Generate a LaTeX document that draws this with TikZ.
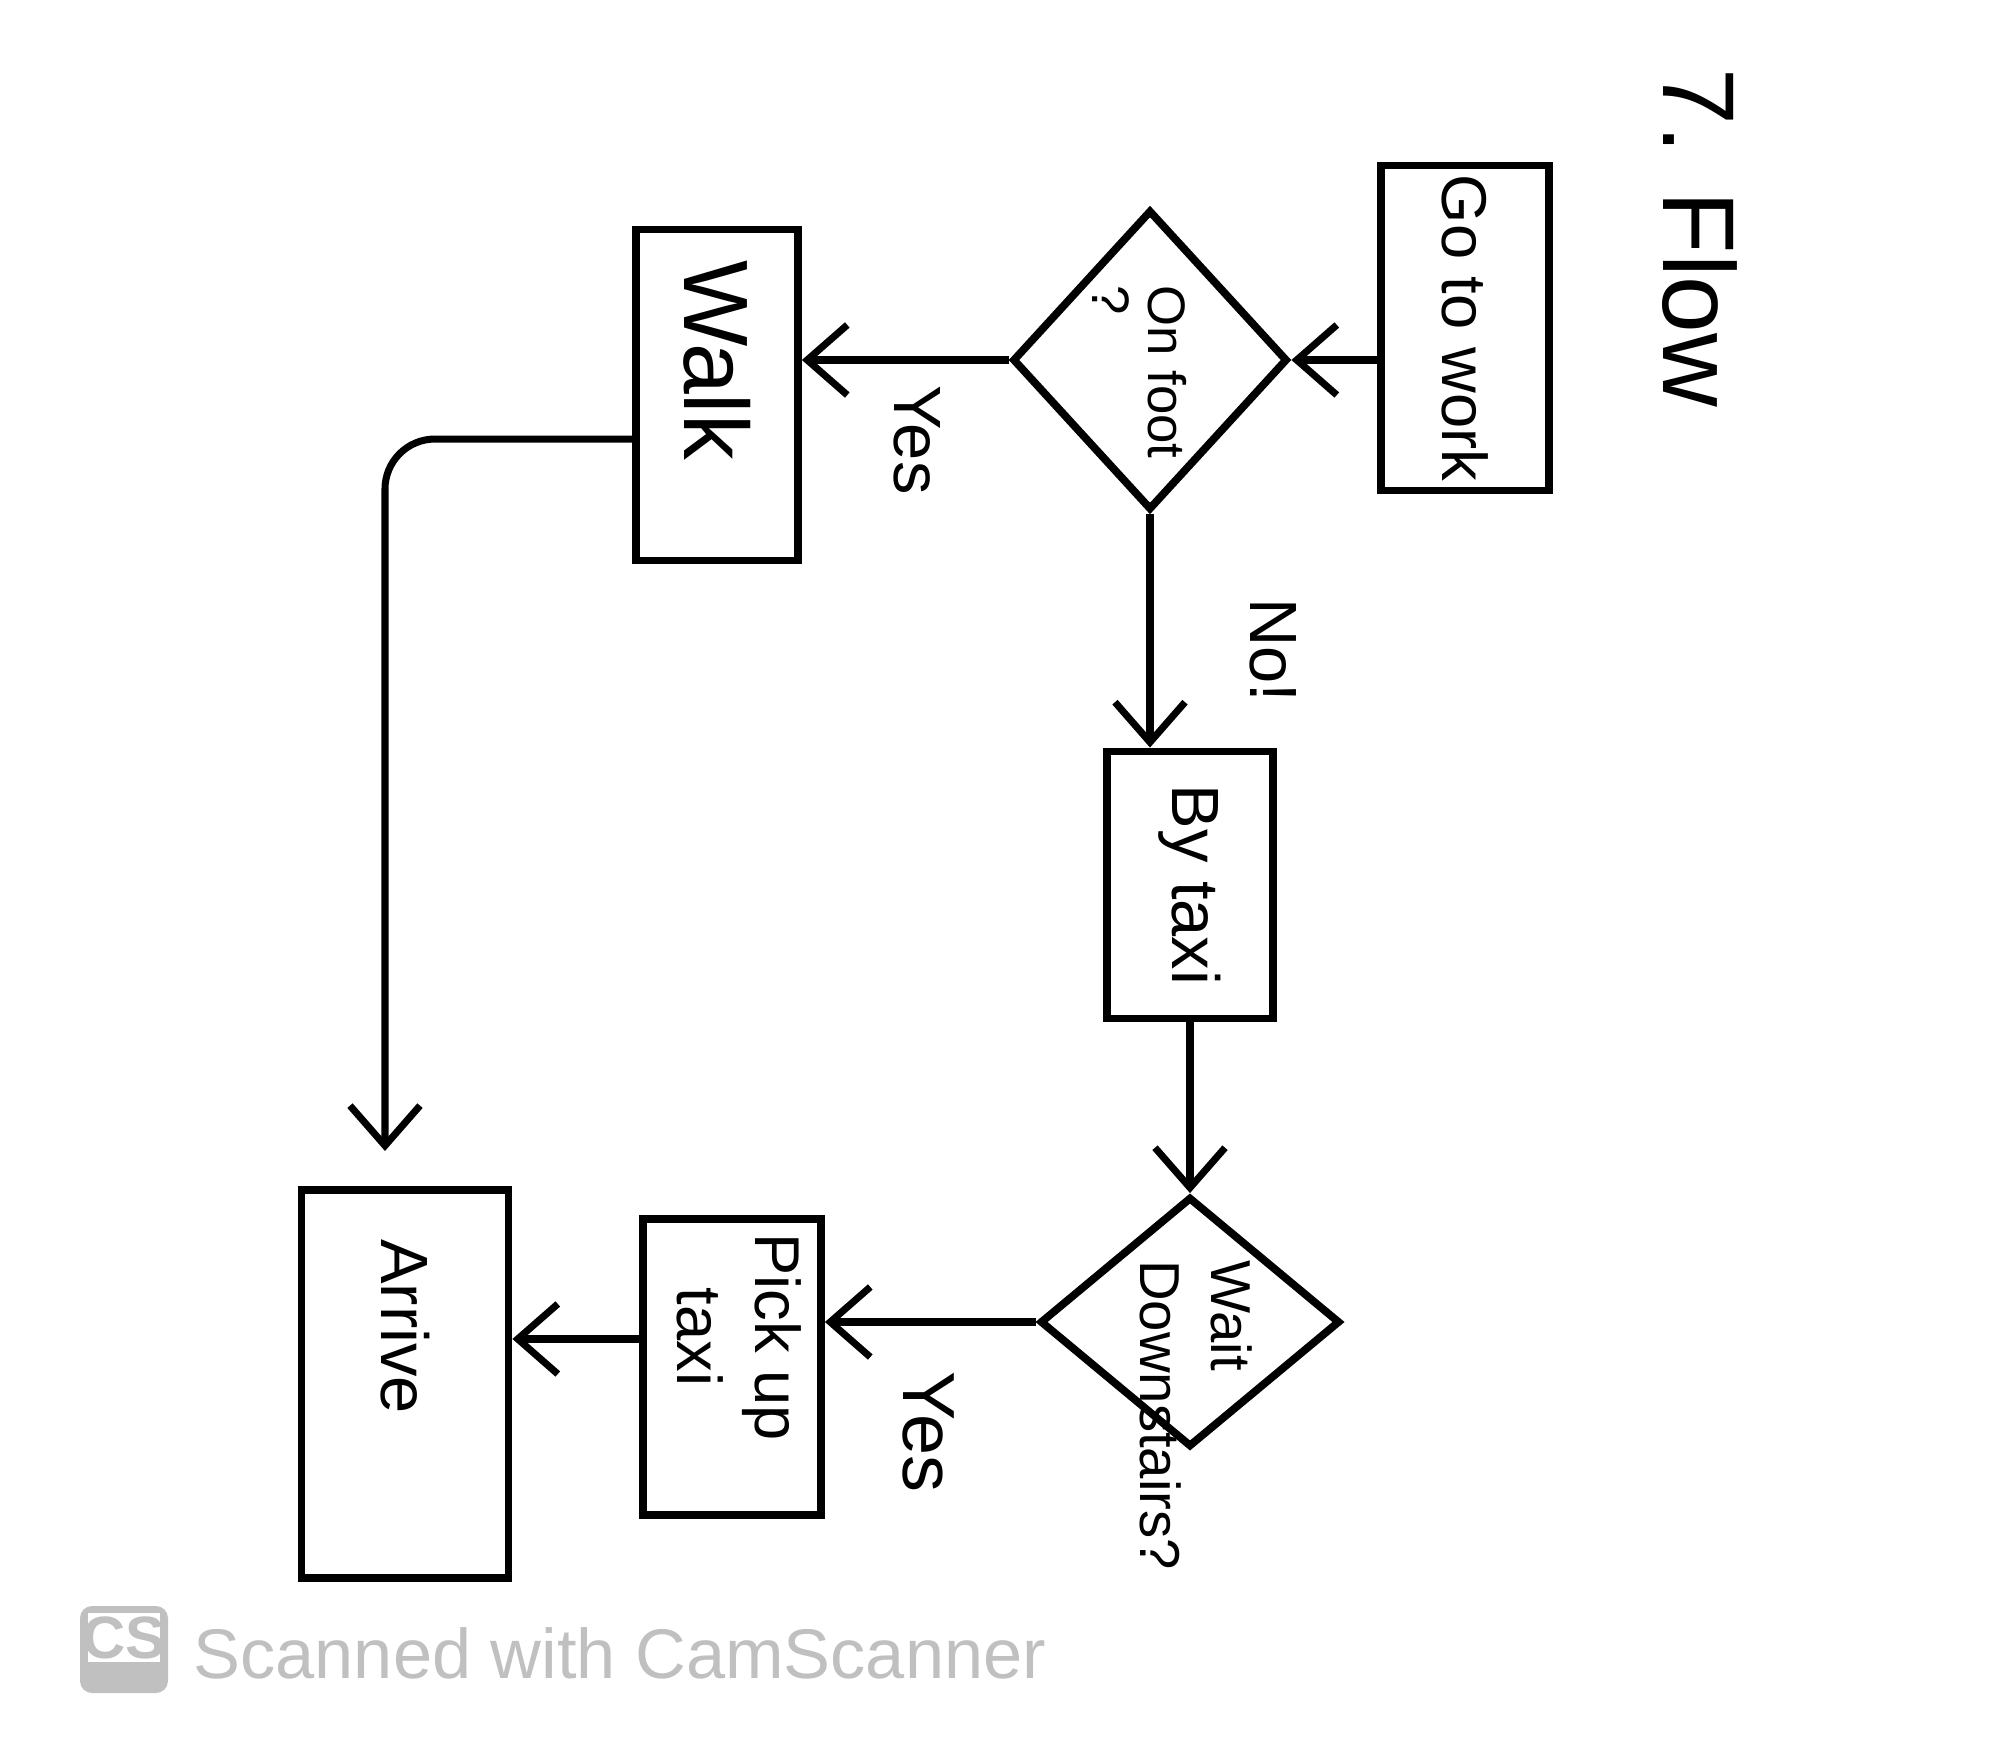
\documentclass[tikz,border=0pt]{standalone}
\usepackage{fontspec}
\setmainfont{Liberation Sans}
\usetikzlibrary{shapes.geometric,arrows.meta}
\definecolor{wmgray}{RGB}{192,192,192}
\newcommand{\vt}[1]{\rotatebox{-90}{#1}}
\begin{document}
\begin{tikzpicture}[x=0.01cm,y=-0.01cm,
  stepbox/.style={draw,line width=2.2pt,inner sep=0pt},
  choice/.style={draw,shape=diamond,line width=2.2pt,inner sep=0pt},
  hand/.style={font=\fontsize{19}{22}\selectfont},
  flow/.style={line width=2pt,-{Straight Barb[length=4mm,width=7mm,line width=2pt]}}]
\useasboundingbox (0,0) rectangle (1996,1764);

\node[rotate=-90,font=\fontsize{29}{32}\selectfont] (title) at (1700,238) {7. Flow};

\node[stepbox,font=\fontsize{18}{22}\selectfont,minimum width=1.68cm,minimum height=3.25cm] (gowork) at (1465,328) {\vt{Go to work}};
\node[choice,minimum width=2.75cm,minimum height=3.0cm] (onfoot) at (1150,360) {};
\node[rotate=-90,font=\fontsize{15}{16}\selectfont] (onfoottxt) at (1132,372) {\begin{tabular}{@{}l@{}}On foot\\?\end{tabular}};
\node[stepbox,minimum width=1.62cm,minimum height=3.31cm,font=\fontsize{26}{30}\selectfont] (walk) at (717,395) {\vt{Walk\hspace{0.7cm}}};
\node[stepbox,hand,minimum width=1.66cm,minimum height=2.67cm] (bytaxi) at (1190,885) {\vt{By taxi}};
\node[choice,minimum width=3.0cm,minimum height=2.5cm] (wait) at (1190,1322) {};
\node[rotate=-90,font=\fontsize{16}{20}\selectfont] (waittxt) at (1190,1415) {\begin{tabular}{@{}l@{}}Wait\\Downstairs?\end{tabular}};
\node[stepbox,minimum width=1.78cm,minimum height=2.96cm,font=\fontsize{18}{22}\selectfont] (pickup) at (732,1367) {\vt{\begin{tabular}{@{}c@{}}Pick up\\taxi\end{tabular}\hspace{0.6cm}}};
\node[stepbox,hand,minimum width=2.07cm,minimum height=3.88cm] (arrive) at (405,1384) {\vt{Arrive\hspace{1.15cm}}};

\node[hand,rotate=-90] (yesa) at (917,440) {Yes};
\node[hand,rotate=-90] (no) at (1273,650) {No!};
\node[hand,rotate=-90,font=\fontsize{21}{24}\selectfont] (yesb) at (929,1432) {Yes};

\draw[flow] (gowork.west |- onfoot.east) -- (onfoot.east);
\draw[flow] (onfoot.west) -- (onfoot.west -| walk.east);
\draw[flow] (onfoot.south) -- (onfoot.south |- bytaxi.north);
\draw[flow,rounded corners=0.5cm,shorten >=0.35cm] ([yshift=-0.44cm]walk.west) -| ([xshift=-0.2cm]arrive.north);
\draw[flow] (bytaxi.south) -- (wait.north);
\draw[flow] (wait.west) -- (wait.west -| pickup.east);
\draw[flow] ([yshift=0.28cm]pickup.west) -- ([yshift=0.28cm]pickup.west -| arrive.east);

\fill[wmgray,rounded corners=0.12cm] (80,1606) rectangle (168,1693);
\fill[white] (88,1613) rectangle (160,1662);
\node[text=wmgray,font=\bfseries\fontsize{17}{17}\selectfont] (cslogo) at (124,1638) {CS};
\node[text=wmgray,anchor=west,inner sep=0pt,font=\fontsize{20}{24}\selectfont] (scanned) at (193,1653) {Scanned with CamScanner};
\end{tikzpicture}
\end{document}
